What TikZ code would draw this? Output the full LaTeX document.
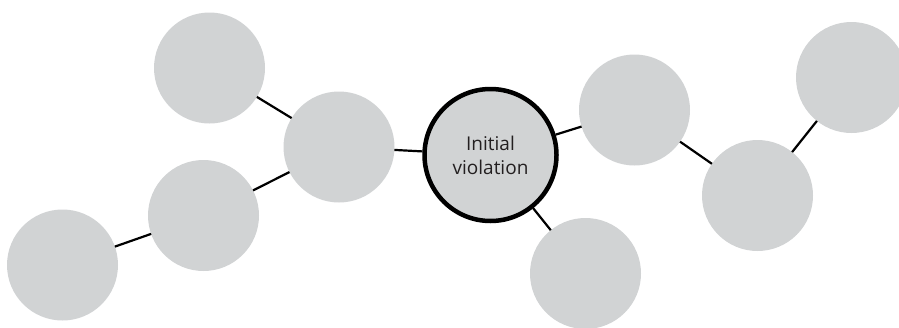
\documentclass[tikz,border=0pt]{standalone}
\usepackage{fontspec}
\setmainfont{Open Sans}
\definecolor{bubble}{RGB}{209,211,212}
\definecolor{ink}{RGB}{35,31,32}
\tikzset{
  bub/.style={circle, fill=bubble, minimum size=111pt, inner sep=0pt, outer sep=0pt},
  core/.style={circle, fill=bubble, draw=black, line width=4.5pt, minimum size=132pt, inner sep=0pt,
    align=center, text=ink, font=\fontsize{19}{24}\selectfont},
  link/.style={line width=2.2pt, black}
}
\begin{document}
\begin{tikzpicture}[x=1pt,y=-1pt]
\useasboundingbox (0,0) rectangle (899,327);
\node[bub] (A) at (209.5,68) {};
\node[bub] (B) at (339,147) {};
\node[bub] (D) at (203.5,215.5) {};
\node[bub] (E) at (62.5,265) {};
\node[bub] (F) at (634.5,110) {};
\node[bub] (G) at (851.5,77.5) {};
\node[bub] (H) at (757.5,195.5) {};
\node[bub] (I) at (585.5,273.5) {};
\node[core] (C) at (490.5,155) {Initial\\violation};
\draw[link] (A) -- (B);
\draw[link] (B) -- (C);
\draw[link] (B) -- (D);
\draw[link] (D) -- (E);
\draw[link] (C) -- (F);
\draw[link] (C) -- (I);
\draw[link] (F) -- (H);
\draw[link] (H) -- (G);
\end{tikzpicture}
\end{document}
